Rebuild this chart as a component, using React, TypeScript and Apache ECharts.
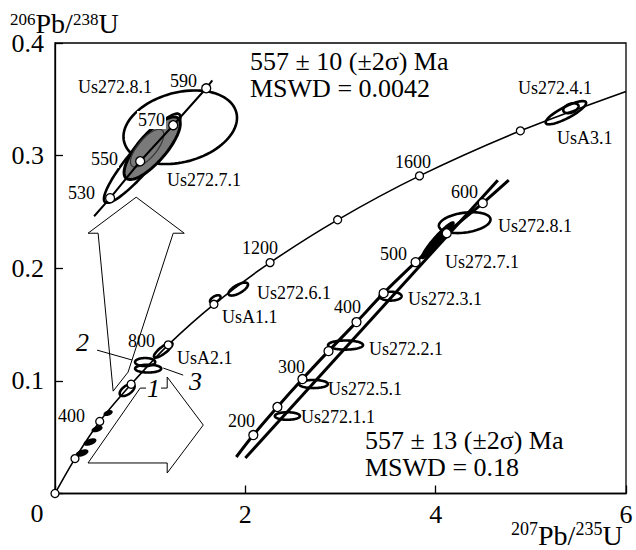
import React, { useEffect, useRef } from 'react';
import * as echarts from 'echarts';

const FONT = "'Liberation Serif', 'Times New Roman', Times, 'DejaVu Serif', serif";

// Main concordia (age markers every 200 Ma; last point = curve end)
const concordiaAges = ['0', '200', '400', '600', '800', '1000', '1200', '1400', '1600', '1800', ''];
const concordiaX = [0, 0.21, 0.47, 0.8, 1.19, 1.67, 2.26, 2.97, 3.83, 4.89, 6.0];
const concordiaY = [0, 0.031, 0.064, 0.097, 0.132, 0.168, 0.205, 0.243, 0.282, 0.322, 0.357];

// Lower-right enlarged inset: concordia segment with markers, and the fitted line
const lowInsetAges = ['', '200', '250', '300', '350', '400', '450', '500', '550', '600', ''];
const lowInsetX = [1.905, 2.084, 2.337, 2.6, 2.874, 3.168, 3.453, 3.789, 4.116, 4.495, 4.768];
const lowInsetY = [0.0324, 0.0519, 0.0768, 0.1016, 0.1264, 0.1522, 0.1779, 0.2054, 0.2311, 0.2578, 0.2782];
const lowFitX = [2.0, 4.653];
const lowFitY = [0.0315, 0.2782];

// Upper-left enlarged inset
const topInsetAges = ['', '530', '550', '570', '590', ''];
const topInsetX = [0.411, 0.579, 0.895, 1.242, 1.589, 1.653];
const topInsetY = [0.2462, 0.2622, 0.295, 0.327, 0.3598, 0.3669];

// Error ellipses: [centre x, centre y, major-axis end x, major-axis end y, minor/major ratio]
const ellipsesOpen = [
  [2.442, 0.0688, 2.574, 0.0688, 0.3], // Us272.1.1
  [2.716, 0.0972, 2.868, 0.0972, 0.28], // Us272.5.1
  [3.053, 0.1318, 3.237, 0.1318, 0.26], // Us272.2.1
  [3.526, 0.1752, 3.642, 0.1752, 0.4], // Us272.3.1
  [4.305, 0.2405, 4.576, 0.2437, 0.38], // Us272.8.1 (inset)
  [1.926, 0.1815, 2.026, 0.1863, 0.38], // Us272.6.1
  [1.684, 0.1726, 1.737, 0.1752, 0.5], // UsA1.1
  [1.137, 0.1273, 1.232, 0.1335, 0.3], // UsA2.1
  [0.758, 0.0919, 0.832, 0.0963, 0.5],
  [0.947, 0.1167, 1.053, 0.1167, 0.4], // 2
  [0.979, 0.1109, 1.116, 0.1109, 0.3], // 3
  [5.368, 0.3381, 5.579, 0.3474, 0.25], // Us272.4.1
  [5.421, 0.3421, 5.5, 0.3445, 0.55], // UsA3.1
  [1.316, 0.3252, 1.905, 0.3385, 0.6], // Us272.8.1 (upper inset)
  [0.916, 0.2977, 0.526, 0.2587, 0.21],
];
const ellipsesSolid = [
  [4.021, 0.2249, 4.189, 0.2409, 0.18], // Us272.7.1 (inset)
  [0.558, 0.0714, 0.598, 0.0727, 0.45],
  [0.442, 0.0572, 0.492, 0.0587, 0.4],
  [0.368, 0.0457, 0.427, 0.0475, 0.4],
  [0.284, 0.0359, 0.343, 0.0377, 0.4],
];
const ellipsesGrey = [[1.021, 0.3066, 1.295, 0.3332, 0.35]]; // Us272.7.1 (upper inset)
const ellipsesThin = [[0.968, 0.3066, 1.126, 0.3225, 0.4]];

// Outline arrows and leader lines (data coordinates)
const arrowUp = [
  [0.453, 0.2311], [0.347, 0.2311], [0.853, 0.2631], [1.358, 0.2311], [1.242, 0.2311],
  [0.768, 0.1078], [0.611, 0.0909], [0.453, 0.2311],
];
const arrowDown = [
  [0.895, 0.0936], [1.179, 0.0936], [1.179, 0.1034], [1.558, 0.0608], [1.179, 0.0182],
  [1.179, 0.0271], [0.347, 0.0271], [0.895, 0.0936],
];
const leader2 = [[0.442, 0.1273], [0.811, 0.1185]];
const leader3 = [[1.137, 0.1114], [1.347, 0.1051]];

const xTicks = [0, 2, 4, 6];
const yTicks = [0, 0.1, 0.2, 0.3, 0.4];

function markerData(xs: number[], ys: number[], ages: string[]) {
  return xs.map((x, i) => ({
    value: [x, ys[i]],
    symbol: ages[i] === '' ? 'none' : 'circle',
  }));
}

function ellipseRender(stroke: string, fill: string, lw: number) {
  return (params: any, api: any) => {
    const c = api.coord([api.value(0), api.value(1)]);
    const e = api.coord([api.value(2), api.value(3)]);
    const r = api.value(4);
    const dx = e[0] - c[0];
    const dy = e[1] - c[1];
    const pts: number[][] = [];
    for (let i = 0; i < 96; i++) {
      const t = (i / 96) * Math.PI * 2;
      const ct = Math.cos(t);
      const st = Math.sin(t);
      pts.push([c[0] + dx * ct - dy * r * st, c[1] + dy * ct + dx * r * st]);
    }
    return { type: 'polygon', shape: { points: pts }, style: { fill, stroke, lineWidth: lw } };
  };
}

function txt(text: string, x: number, y: number, size: number, opts: any = {}) {
  return {
    type: 'text',
    x,
    y,
    z: 100,
    style: {
      text,
      fontFamily: FONT,
      fontSize: size,
      fontStyle: opts.italic ? 'italic' : 'normal',
      fill: '#000',
      textAlign: opts.align || 'left',
      textVerticalAlign: 'middle',
      backgroundColor: opts.bg ? '#fff' : undefined,
      padding: opts.bg ? [0, 1, 0, 1] : undefined,
    },
  };
}

const labels: [string, number, number, any?][] = [
  ['Us272.8.1', 78, 87],
  ['590', 170, 81],
  ['570', 137, 120, { bg: true }],
  ['550', 90, 159, { bg: true }],
  ['530', 68, 193],
  ['Us272.7.1', 167, 180],
  ['1200', 242, 248],
  ['1600', 395, 162],
  ['Us272.4.1', 518, 88],
  ['UsA3.1', 557, 138],
  ['600', 451, 192],
  ['Us272.8.1', 498, 226],
  ['500', 380, 254],
  ['Us272.7.1', 445, 262],
  ['Us272.3.1', 408, 299],
  ['400', 334, 307],
  ['Us272.2.1', 369, 349],
  ['Us272.5.1', 328, 389],
  ['Us272.1.1', 301, 417],
  ['300', 278, 367],
  ['200', 228, 421],
  ['Us272.6.1', 257, 293],
  ['UsA1.1', 222, 317],
  ['UsA2.1', 177, 358],
  ['800', 128, 341],
  ['400', 58, 416],
];

export default function App() {
  const ref = useRef<HTMLDivElement>(null);
  useEffect(() => {
    if (!ref.current) return;
    const chart = echarts.init(ref.current, undefined, { renderer: 'svg' });
    const thinLine = (data: number[][]) => ({
      type: 'line',
      data,
      symbol: 'none',
      silent: true,
      z: 1,
      lineStyle: { color: '#000', width: 1 },
    });
    const markerStyle = { color: '#fff', borderColor: '#000', borderWidth: 1.3 };
    const graphics: any[] = labels.map(([t, x, y, o]) => txt(t, x, y, 18, o || {}));
    graphics.push(txt('2', 76, 342, 26, { italic: true }));
    graphics.push(txt('3', 189, 381, 26, { italic: true }));
    graphics.push(txt('1', 146, 388, 26, { italic: true, bg: true }));
    graphics.push(txt('557 ± 10 (±2σ) Ma', 250, 61, 26));
    graphics.push(txt('MSWD = 0.0042', 250, 88, 26));
    graphics.push(txt('557 ± 13 (±2σ) Ma', 365, 440, 26));
    graphics.push(txt('MSWD = 0.18', 365, 467, 26));
    graphics.push(txt('0', 37, 513, 26, { align: 'center' }));
    // axis titles
    graphics.push(txt('206', 10, 19, 17));
    graphics.push(txt('Pb/', 35.5, 23.5, 28));
    graphics.push(txt('238', 73, 19, 17));
    graphics.push(txt('U', 98.5, 23.5, 28));
    graphics.push(txt('207', 511, 528.5, 18));
    graphics.push(txt('Pb/', 538, 535, 28));
    graphics.push(txt('235', 575.5, 528.5, 18));
    graphics.push(txt('U', 602.5, 535, 28));

    chart.setOption({
      animation: false,
      backgroundColor: '#fff',
      textStyle: { fontFamily: FONT },
      grid: {
        left: 55,
        right: 10,
        top: 43,
        bottom: 56.5,
        show: true,
        borderColor: '#000',
        borderWidth: 1.3,
        backgroundColor: 'transparent',
      },
      xAxis: {
        type: 'value',
        min: xTicks[0],
        max: xTicks[xTicks.length - 1],
        interval: 2,
        axisLine: { lineStyle: { color: '#000', width: 1.3 } },
        axisTick: { inside: true, length: 8, lineStyle: { color: '#000', width: 1.3 } },
        splitLine: { show: false },
        axisLabel: {
          color: '#000',
          fontFamily: FONT,
          fontSize: 26,
          margin: 8,
          formatter: (v: number) => (v === 0 ? '' : String(v)),
        },
      },
      yAxis: {
        type: 'value',
        min: yTicks[0],
        max: yTicks[yTicks.length - 1],
        interval: 0.1,
        axisLine: { lineStyle: { color: '#000', width: 1.3 } },
        axisTick: { inside: true, length: 8, lineStyle: { color: '#000', width: 1.3 } },
        splitLine: { show: false },
        axisLabel: {
          color: '#000',
          fontFamily: FONT,
          fontSize: 26,
          margin: 11,
          formatter: (v: number) => (v === 0 ? '' : v.toFixed(1)),
        },
      },
      graphic: { elements: graphics },
      series: [
        thinLine(arrowUp),
        thinLine(arrowDown),
        thinLine(leader2),
        thinLine(leader3),
        {
          type: 'custom',
          renderItem: ellipseRender('#000', 'none', 2.6),
          data: ellipsesOpen,
          encode: { x: 0, y: 1 },
          silent: true,
          z: 2,
        },
        {
          type: 'custom',
          renderItem: ellipseRender('#000', '#7a7a7a', 3),
          data: ellipsesGrey,
          encode: { x: 0, y: 1 },
          silent: true,
          z: 3,
        },
        {
          type: 'custom',
          renderItem: ellipseRender('#333', 'none', 1.2),
          data: ellipsesThin,
          encode: { x: 0, y: 1 },
          silent: true,
          z: 3,
        },
        {
          type: 'custom',
          renderItem: ellipseRender('#000', '#000', 1.5),
          data: ellipsesSolid,
          encode: { x: 0, y: 1 },
          silent: true,
          z: 3,
        },
        {
          type: 'line',
          data: markerData(concordiaX, concordiaY, concordiaAges),
          smooth: 0.3,
          symbolSize: 8,
          silent: true,
          z: 4,
          lineStyle: { color: '#000', width: 1.6 },
          itemStyle: markerStyle,
        },
        {
          type: 'line',
          data: lowFitX.map((x, i) => [x, lowFitY[i]]),
          symbol: 'none',
          silent: true,
          z: 4,
          lineStyle: { color: '#000', width: 3 },
        },
        {
          type: 'line',
          data: markerData(lowInsetX, lowInsetY, lowInsetAges),
          smooth: 0.3,
          symbolSize: 9,
          silent: true,
          z: 5,
          lineStyle: { color: '#000', width: 3 },
          itemStyle: markerStyle,
        },
        {
          type: 'line',
          data: markerData(topInsetX, topInsetY, topInsetAges),
          symbolSize: 9,
          silent: true,
          z: 5,
          lineStyle: { color: '#000', width: 2 },
          itemStyle: markerStyle,
        },
      ],
    });
    return () => chart.dispose();
  }, []);
  return <div ref={ref} style={{ position: 'absolute', left: 0, top: 0, width: 636, height: 550 }} />;
}
